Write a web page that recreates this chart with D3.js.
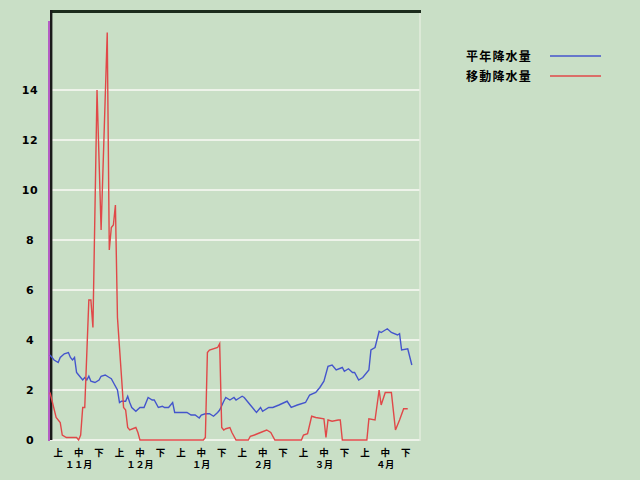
<!DOCTYPE html>
<html>
<head>
<meta charset="utf-8">
<script src="https://cdn.jsdelivr.net/npm/d3@7"></script>
<style>
  body { margin: 0; background: #c9dfc6; }
  text { font-family: "Noto Sans CJK JP", "DejaVu Sans", sans-serif; font-weight: bold; fill: #000; }
</style>
</head>
<body>
<div id="container"></div>
<script>
const w = 640;
const h = 480;

// x ticks: dekads of each month
const dekads = ["上", "中", "下"];
const months = ["１１月", "１２月", "１月", "２月", "３月", "４月"];
const yTicks = [0, 2, 4, 6, 8, 10, 12, 14];

// days counted from 1 Nov
const normalDays = [0, 2, 4, 5, 7, 9, 10, 11, 12, 13, 14, 16, 17, 18, 19, 20, 22, 24, 25, 27, 29, 30, 31, 33, 34, 35, 37, 38, 39, 40, 42, 44, 46, 48, 50, 51, 53, 55, 56, 58, 60, 61, 67, 69, 71, 73, 74, 76, 78, 80, 82, 83, 85, 86, 88, 90, 91, 93, 94, 95, 98, 101, 103, 104, 107, 109, 112, 116, 118, 121, 125, 127, 130, 132, 134, 136, 138, 140, 143, 144, 146, 148, 149, 151, 153, 156, 157, 159, 161, 162, 165, 167, 170, 171, 172, 175, 177];
const normalRain = [3.4, 3.2, 3.1, 3.3, 3.45, 3.5, 3.3, 3.2, 3.3, 2.7, 2.6, 2.4, 2.5, 2.4, 2.55, 2.35, 2.3, 2.4, 2.55, 2.6, 2.5, 2.45, 2.3, 2.0, 1.5, 1.55, 1.55, 1.75, 1.5, 1.3, 1.15, 1.3, 1.3, 1.7, 1.6, 1.6, 1.3, 1.35, 1.3, 1.3, 1.5, 1.1, 1.1, 1.0, 1.0, 0.88, 1.0, 1.05, 1.05, 0.95, 1.1, 1.2, 1.55, 1.7, 1.6, 1.7, 1.6, 1.7, 1.75, 1.7, 1.4, 1.1, 1.3, 1.15, 1.3, 1.3, 1.4, 1.55, 1.3, 1.4, 1.5, 1.8, 1.9, 2.1, 2.35, 2.95, 3.0, 2.8, 2.9, 2.75, 2.85, 2.7, 2.7, 2.4, 2.5, 2.8, 3.6, 3.7, 4.35, 4.3, 4.45, 4.3, 4.2, 4.25, 3.6, 3.65, 3.0];

const movingDays = [0, 3, 5, 6, 8, 13, 14, 15, 16, 17, 19, 20, 21, 23, 25, 28, 29, 30, 31, 32, 33, 34, 36, 37, 38, 39, 42, 43, 44, 75, 76, 77, 78, 82, 83, 84, 85, 86, 88, 89, 91, 97, 98, 100, 103, 106, 108, 110, 123, 124, 126, 128, 130, 134, 135, 136, 138, 141, 142, 143, 155, 156, 159, 161, 162, 164, 167, 169, 171, 173, 175];
const movingRain = [1.9, 0.9, 0.7, 0.2, 0.1, 0.1, 0, 0.2, 1.3, 1.3, 5.6, 5.6, 4.5, 14.0, 8.4, 16.3, 7.6, 8.5, 8.6, 9.4, 4.9, 3.7, 1.3, 1.2, 0.5, 0.4, 0.5, 0.3, 0, 0, 0.1, 3.5, 3.6, 3.7, 3.85, 0.5, 0.4, 0.45, 0.5, 0.3, 0, 0, 0.15, 0.2, 0.3, 0.4, 0.3, 0, 0, 0.2, 0.25, 0.95, 0.9, 0.85, 0.1, 0.8, 0.75, 0.8, 0.8, 0, 0, 0.85, 0.8, 2.0, 1.4, 1.9, 1.9, 0.4, 0.8, 1.25, 1.25];

const seriesNames = ["平年降水量", "移動降水量"];
const seriesColors = ["#4455cc", "#e04848"];

const svg = d3.select("#container").append("svg")
  .attr("width", w).attr("height", h);

svg.append("rect").attr("width", w).attr("height", h).attr("fill", "#c9dfc6");

const x = d3.scaleLinear().domain([0, 181]).range([50, 420]);
const y = d3.scaleLinear().domain([0, 16]).range([440, 40]);

const labels = [];
months.forEach((m) => dekads.forEach((d) => labels.push(m + d)));
const band = d3.scaleBand().domain(labels).range([48, 416]);

// grid
svg.selectAll(".grid").data(yTicks).enter().append("line")
  .attr("x1", 50).attr("x2", 420)
  .attr("y1", (d) => y(d)).attr("y2", (d) => y(d))
  .attr("stroke", "#eef3ea").attr("stroke-width", 2);

svg.append("line").attr("x1", 420).attr("x2", 420).attr("y1", 12).attr("y2", 441)
  .attr("stroke", "#e2ecdc").attr("stroke-width", 1.5);

// frame
svg.append("line").attr("x1", 50).attr("x2", 421).attr("y1", 11.5).attr("y2", 11.5)
  .attr("stroke", "#1c2c1c").attr("stroke-width", 3);
svg.append("line").attr("x1", 51.2).attr("x2", 51.2).attr("y1", 10).attr("y2", 440)
  .attr("stroke", "#1a1a1a").attr("stroke-width", 2.4);
svg.append("line").attr("x1", 49).attr("x2", 49).attr("y1", 21).attr("y2", 441)
  .attr("stroke", "#b45cc4").attr("stroke-width", 2);

// y labels
svg.selectAll(".ylab").data(yTicks).enter().append("text")
  .attr("x", 30).attr("y", (d) => y(d) + 4)
  .attr("text-anchor", "middle")
  .style("font-family", "'DejaVu Sans', sans-serif")
  .style("font-size", "11px")
  .style("letter-spacing", "0.5px")
  .text((d) => d);

// x labels
svg.selectAll(".xlab").data(labels).enter().append("text")
  .attr("x", (d) => band(d) + band.bandwidth() / 2)
  .attr("y", 456)
  .attr("text-anchor", "middle")
  .style("font-size", "9.5px")
  .text((d) => d.slice(-1));

svg.selectAll(".mlab").data(months).enter().append("text")
  .attr("x", (d) => band(d + "中") + band.bandwidth() / 2)
  .attr("y", 468)
  .attr("text-anchor", "middle")
  .style("font-size", "9px")
  .text((d) => d);

// series
const line = d3.line().x((d) => x(d[0])).y((d) => y(d[1]));
const series = [
  d3.zip(normalDays, normalRain),
  d3.zip(movingDays, movingRain)
];
series.forEach((s, i) => {
  svg.append("path").datum(s)
    .attr("d", line)
    .attr("fill", "none")
    .attr("stroke", seriesColors[i])
    .attr("stroke-width", 1.4);
});

// legend
seriesNames.forEach((name, i) => {
  const ly = 56 + i * 20;
  svg.append("text").attr("x", 466).attr("y", ly + 4.5)
    .style("font-size", "12px").style("letter-spacing", "1.2px")
    .text(name);
  svg.append("line").attr("x1", 550).attr("x2", 601).attr("y1", ly).attr("y2", ly)
    .attr("stroke", seriesColors[i]).attr("stroke-width", 1.4);
});
</script>
</body>
</html>
